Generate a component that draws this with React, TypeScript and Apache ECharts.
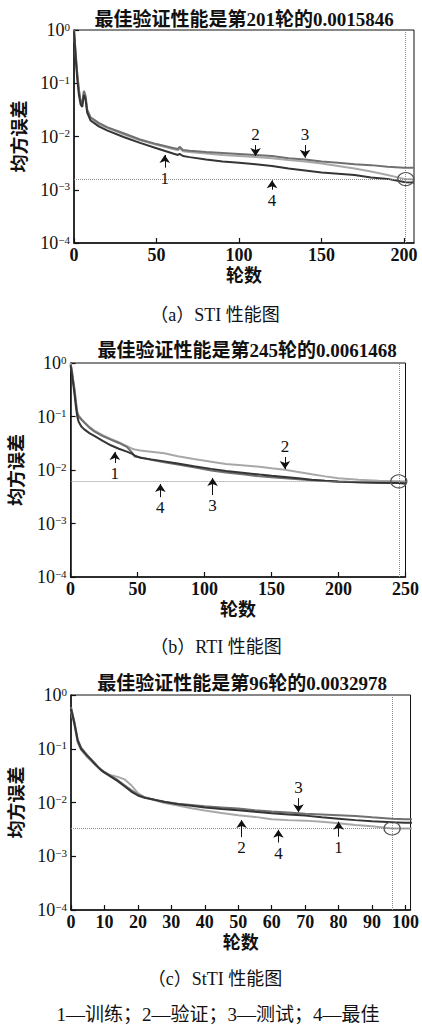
import React, { useEffect, useRef } from 'react';
import * as echarts from 'echarts';

const FONT = "'Liberation Serif', 'Noto Sans CJK SC', serif";

// ---------- Panel (a) STI ----------
const epochsA = [0, 1, 2, 3, 4, 5, 6, 7, 8, 10, 15, 20, 30, 40, 50, 60, 63, 64, 66, 70, 80, 90, 100, 110, 120, 130, 140, 150, 160, 170, 180, 190, 200, 201, 206];
const trainA = [0.95, 0.3, 0.12, 0.06, 0.04, 0.036, 0.06, 0.05, 0.028, 0.02, 0.0155, 0.013, 0.0098, 0.0076, 0.006, 0.0048, 0.0045, 0.0047, 0.0043, 0.0041, 0.0037, 0.0034, 0.0032, 0.003, 0.0028, 0.0025, 0.0023, 0.0021, 0.002, 0.0019, 0.0017, 0.0016, 0.0014, 0.00139, 0.00137];
const validA = [1.0, 0.35, 0.14, 0.07, 0.045, 0.04, 0.068, 0.055, 0.03, 0.022, 0.017, 0.0145, 0.011, 0.0085, 0.007, 0.0058, 0.0055, 0.006, 0.0053, 0.0051, 0.0048, 0.0045, 0.0043, 0.0041, 0.0039, 0.0036, 0.0034, 0.0031, 0.0028, 0.0025, 0.0022, 0.0019, 0.0016, 0.0015846, 0.00155];
const testA = [1.0, 0.38, 0.15, 0.075, 0.046, 0.042, 0.072, 0.058, 0.032, 0.023, 0.018, 0.015, 0.0115, 0.0088, 0.0072, 0.0061, 0.0058, 0.0064, 0.0056, 0.0054, 0.0051, 0.0049, 0.0047, 0.0045, 0.0043, 0.0039, 0.0037, 0.0034, 0.0032, 0.003, 0.0029, 0.0027, 0.0026, 0.0026, 0.0026];
const bestA = { epoch: 201, value: 0.0015846 };
const arrowsA = [
  { label: '1', epoch: 55, from: 0.0026, to: 0.0045 },
  { label: '2', epoch: 110, from: 0.0069, to: 0.0043 },
  { label: '3', epoch: 140, from: 0.0069, to: 0.004 },
  { label: '4', epoch: 120, from: 0.001, to: 0.0015 },
];

// ---------- Panel (b) RTI ----------
const epochsB = [0, 1, 2, 3, 4, 5, 6, 8, 10, 14, 18, 24, 30, 36, 42, 46, 48, 52, 60, 70, 80, 92, 105, 116, 130, 141, 150, 160, 170, 180, 190, 200, 215, 230, 245, 250];
const trainB = [0.9, 0.6, 0.4, 0.25, 0.15, 0.1, 0.08, 0.065, 0.058, 0.049, 0.043, 0.035, 0.029, 0.025, 0.022, 0.02, 0.0185, 0.017, 0.0158, 0.0145, 0.0132, 0.0118, 0.0105, 0.0096, 0.0088, 0.0082, 0.0078, 0.0074, 0.007, 0.0066, 0.0063, 0.0061, 0.0059, 0.0058, 0.0057, 0.0056];
const validB = [1.0, 0.72, 0.47, 0.32, 0.19, 0.12, 0.105, 0.09, 0.08, 0.064, 0.054, 0.045, 0.038, 0.033, 0.028, 0.025, 0.0242, 0.0232, 0.022, 0.0205, 0.018, 0.016, 0.0143, 0.0129, 0.0122, 0.0115, 0.0108, 0.0101, 0.0092, 0.0083, 0.0076, 0.007, 0.0066, 0.0063, 0.0061468, 0.0061];
const testB = [0.95, 0.7, 0.45, 0.3, 0.18, 0.115, 0.1, 0.088, 0.078, 0.062, 0.052, 0.043, 0.037, 0.032, 0.027, 0.021, 0.0178, 0.0172, 0.0155, 0.014, 0.0126, 0.0112, 0.0098, 0.009, 0.0082, 0.0076, 0.0073, 0.007, 0.0067, 0.0064, 0.0062, 0.006, 0.0059, 0.0058, 0.0057, 0.0056];
const bestB = { epoch: 245, value: 0.0061468 };
const arrowsB = [
  { label: '1', epoch: 33, from: 0.0135, to: 0.0216 },
  { label: '2', epoch: 160, from: 0.0175, to: 0.0104 },
  { label: '3', epoch: 106, from: 0.0034, to: 0.0071 },
  { label: '4', epoch: 67, from: 0.0031, to: 0.0055 },
];

// ---------- Panel (c) StTI ----------
const epochsC = [0, 1, 2, 3, 4, 5, 6, 7, 8, 9, 10, 12, 14, 16, 18, 20, 22, 25, 28, 32, 36, 40, 45, 50, 55, 60, 65, 70, 75, 80, 85, 90, 96, 100, 102];
const trainC = [0.55, 0.3, 0.14, 0.1, 0.085, 0.072, 0.062, 0.053, 0.046, 0.04, 0.036, 0.03, 0.025, 0.02, 0.016, 0.0135, 0.0122, 0.0112, 0.0102, 0.0093, 0.0087, 0.0081, 0.0076, 0.0072, 0.0067, 0.0063, 0.006, 0.0057, 0.0053, 0.005, 0.0047, 0.0045, 0.0043, 0.0042, 0.0042];
const validC = [0.5, 0.28, 0.13, 0.095, 0.08, 0.068, 0.06, 0.052, 0.045, 0.04, 0.036, 0.032, 0.03, 0.027, 0.021, 0.015, 0.0125, 0.011, 0.0098, 0.0088, 0.0078, 0.0071, 0.0064, 0.0058, 0.0054, 0.0049, 0.0047, 0.0046, 0.0044, 0.0041, 0.0038, 0.0036, 0.0032978, 0.0033, 0.0033];
const testC = [0.6, 0.32, 0.15, 0.105, 0.088, 0.074, 0.064, 0.055, 0.047, 0.041, 0.037, 0.031, 0.026, 0.021, 0.017, 0.014, 0.0125, 0.0113, 0.0103, 0.0095, 0.009, 0.0085, 0.0081, 0.0077, 0.0072, 0.0068, 0.0065, 0.0062, 0.006, 0.0058, 0.0056, 0.0053, 0.005, 0.0049, 0.0049];
const bestC = { epoch: 96, value: 0.0032978 };
const arrowsC = [
  { label: '3', epoch: 68, from: 0.0121, to: 0.0066 },
  { label: '2', epoch: 51, from: 0.00227, to: 0.0047 },
  { label: '4', epoch: 62, from: 0.0018, to: 0.0031 },
  { label: '1', epoch: 80, from: 0.0023, to: 0.0044 },
];

const titles = ['最佳验证性能是第201轮的0.0015846', '最佳验证性能是第245轮的0.0061468', '最佳验证性能是第96轮的0.0032978'];
const captions = ['（a）STI 性能图', '（b）RTI 性能图', '（c）StTI 性能图'];
const legendText = '1—训练；2—验证；3—测试；4—最佳';
const xMax = [206, 250, 101.5];
const xInterval = [50, 50, 10];
const yMin = 0.0001;
const yMax = 1;

const panels = [
  { epochs: epochsA, train: trainA, valid: validA, test: testA, best: bestA, arrows: arrowsA },
  { epochs: epochsB, train: trainB, valid: validB, test: testB, best: bestB, arrows: arrowsB },
  { epochs: epochsC, train: trainC, valid: validC, test: testC, best: bestC, arrows: arrowsC },
];

const grids = [
  { left: 74, top: 30, width: 340, height: 213 },
  { left: 69, top: 363, width: 339, height: 214 },
  { left: 71, top: 695, width: 341, height: 215 },
];
const titlePos = [[244, 19], [247, 350], [242, 683]];
const captionPos = [[215, 315], [216, 647], [215, 979]];

const COLORS = { train: '#353535', valid: '#a8a8a8', test: '#707070' };

export default function App() {
  const ref = useRef<HTMLDivElement>(null);
  useEffect(() => {
    if (!ref.current) return;
    const chart = echarts.init(ref.current, undefined, { renderer: 'svg' });

    const supLabel = (v: number) => {
      const ex = Math.round(Math.log10(v));
      const s = ex === 0 ? '0' : '\u2212' + String(-ex);
      return `{b|10}{s|${s}}`;
    };

    const xAxes = grids.map((_, i) => ({
      type: 'value',
      gridIndex: i,
      min: 0,
      max: xMax[i],
      interval: xInterval[i],
      axisLine: { show: true, lineStyle: { color: '#111', width: 1.5 } },
      axisTick: { show: true, inside: true, length: 5, lineStyle: { color: '#111', width: 1.2 } },
      axisLabel: {
        fontSize: 18, fontWeight: 'bold', color: '#111', fontFamily: FONT, margin: 3,
        showMaxLabel: i === 1,
      },
      splitLine: { show: false },
      name: '轮数',
      nameLocation: 'middle',
      nameGap: 24,
      nameTextStyle: { fontSize: 18, fontWeight: 'bold', color: '#111', fontFamily: FONT },
    }));

    const yAxes = grids.map((_, i) => ({
      type: 'log',
      logBase: 10,
      gridIndex: i,
      min: yMin,
      max: yMax,
      axisLine: { show: true, lineStyle: { color: '#111', width: 1.5 } },
      axisTick: { show: true, inside: true, length: 5, lineStyle: { color: '#111', width: 1.2 } },
      minorTick: { show: false },
      splitLine: { show: false },
      axisLabel: {
        formatter: supLabel,
        margin: 4,
        color: '#111',
        rich: {
          b: { fontSize: 18, fontFamily: FONT, color: '#111', lineHeight: 18 },
          s: { fontSize: 11, fontFamily: FONT, color: '#111', verticalAlign: 'top', lineHeight: 11 },
        },
      },
      name: '均方误差',
      nameLocation: 'middle',
      nameGap: 42,
      nameRotate: 90,
      nameTextStyle: { fontSize: 18, fontWeight: 'bold', color: '#111', fontFamily: FONT },
    }));

    const series: any[] = [];
    panels.forEach((p, i) => {
      const pairs = (vals: number[]) => p.epochs.map((e, k) => [e, vals[k]]);
      series.push({
        type: 'line', name: '验证', xAxisIndex: i, yAxisIndex: i,
        data: pairs(p.valid), showSymbol: false, symbol: 'none',
        lineStyle: { color: COLORS.valid, width: 2 }, z: 2,
        markLine: {
          silent: true, symbol: 'none',
          label: { show: false },
          lineStyle: { color: '#8a8a8a', type: 'dotted', width: 1 },
          data: [
            [{ coord: [0, p.best.value] }, { coord: [xMax[i], p.best.value] }],
            [{ coord: [p.best.epoch, yMin] }, { coord: [p.best.epoch, yMax] }],
          ],
        },
        markPoint: {
          silent: true,
          symbol: 'circle',
          symbolSize: [16, 13],
          itemStyle: { color: 'rgba(0,0,0,0)', borderColor: '#555', borderWidth: 1.2 },
          label: { show: false },
          data: [{ coord: [p.best.epoch, p.best.value] }],
        },
      });
      series.push({
        type: 'line', name: '测试', xAxisIndex: i, yAxisIndex: i,
        data: pairs(p.test), showSymbol: false, symbol: 'none',
        lineStyle: { color: COLORS.test, width: 2 }, z: 3,
      });
      series.push({
        type: 'line', name: '训练', xAxisIndex: i, yAxisIndex: i,
        data: pairs(p.train), showSymbol: false, symbol: 'none',
        lineStyle: { color: COLORS.train, width: 2 }, z: 4,
        markLine: {
          silent: true,
          symbol: ['none', 'arrow'],
          symbolSize: 8,
          lineStyle: { color: '#111', type: 'solid', width: 1 },
          itemStyle: { color: '#111' },
          label: {
            show: true, position: 'start', distance: 2,
            formatter: (d: any) => d.name,
            fontSize: 17, color: '#111', fontFamily: FONT,
          },
          data: p.arrows.map((a) => [
            { name: a.label, coord: [a.epoch, a.from], symbol: 'none' },
            { coord: [a.epoch, a.to], symbol: 'arrow', symbolSize: 8 },
          ]),
        },
      });
    });

    const textEl = (text: string, x: number, y: number, font: string) => ({
      type: 'text', x, y, silent: true,
      style: { text, font, fill: '#111', textAlign: 'center', textVerticalAlign: 'middle', align: 'center', verticalAlign: 'middle' },
    });

    const graphic: any[] = [];
    titles.forEach((t, i) => graphic.push(textEl(t, titlePos[i][0], titlePos[i][1], `bold 19px ${FONT}`)));
    captions.forEach((t, i) => graphic.push(textEl(t, captionPos[i][0], captionPos[i][1], `18px ${FONT}`)));
    graphic.push(textEl(legendText, 218, 1014, `19px ${FONT}`));

    chart.setOption({
      animation: false,
      backgroundColor: '#fff',
      grid: grids.map((g) => ({ ...g, show: true, borderColor: '#111', borderWidth: 1, backgroundColor: 'transparent', containLabel: false })),
      xAxis: xAxes,
      yAxis: yAxes,
      series,
      graphic,
    });
    return () => chart.dispose();
  }, []);
  return <div ref={ref} style={{ position: 'absolute', left: 0, top: 0, width: 422, height: 1025 }} />;
}
